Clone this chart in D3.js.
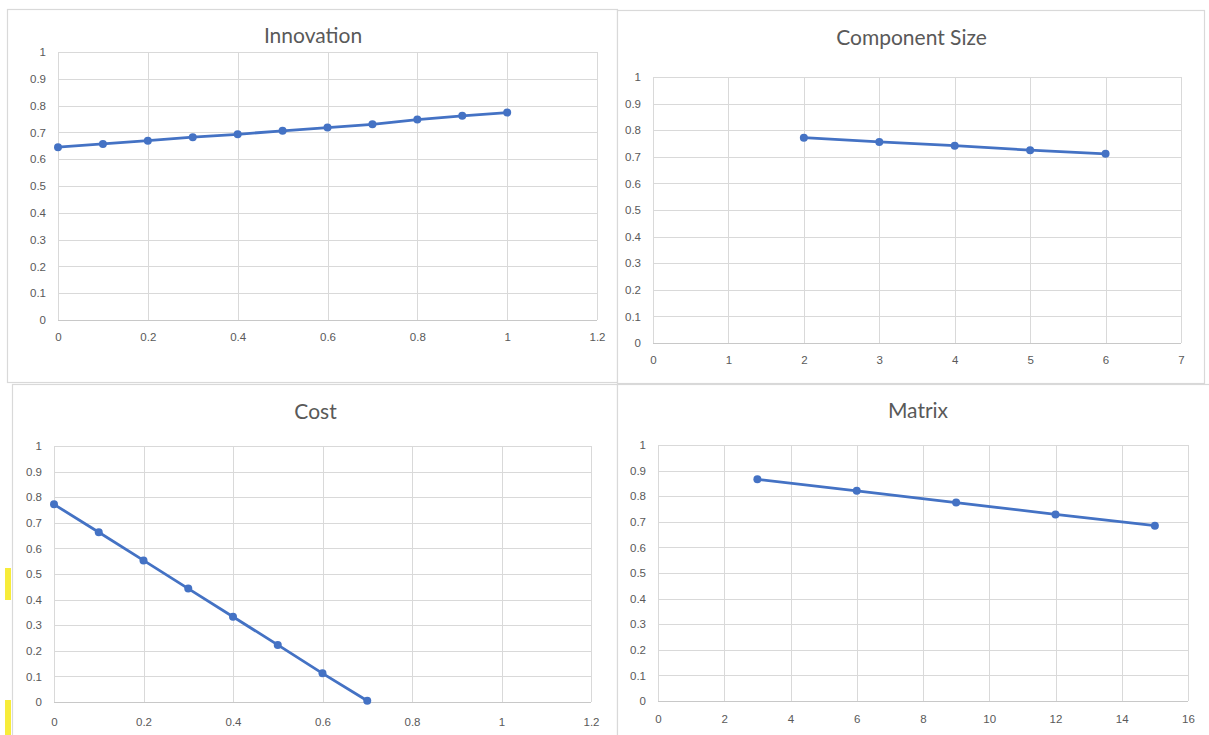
<!DOCTYPE html>
<html>
<head>
<meta charset="utf-8">
<script src="https://cdn.jsdelivr.net/npm/d3@7"></script>
<style>
  body { margin: 0; background: #fff; }
  svg { display: block; font-family: Lato, "Open Sans", sans-serif; }
  .tick text { fill: #595959; font-size: 11.5px; }
  .title { fill: #595959; font-size: 21px; }
</style>
</head>
<body>
<svg id="chart"></svg>
<script>
var w = 1209;
var h = 735;

// data
var innovationX = [0, 0.1, 0.2, 0.3, 0.4, 0.5, 0.6, 0.7, 0.8, 0.9, 1];
var innovationY = [0.645, 0.657, 0.669, 0.682, 0.693, 0.706, 0.718, 0.730, 0.748, 0.762, 0.774];

var componentX = [2, 3, 4, 5, 6];
var componentY = [0.772, 0.756, 0.742, 0.725, 0.711];

var costX = [0, 0.1, 0.2, 0.3, 0.4, 0.5, 0.6, 0.7];
var costY = [0.772, 0.663, 0.553, 0.443, 0.333, 0.223, 0.112, 0.005];

var matrixX = [3, 6, 9, 12, 15];
var matrixY = [0.866, 0.821, 0.775, 0.729, 0.685];

// tick labels
var yTicks = [0, 0.1, 0.2, 0.3, 0.4, 0.5, 0.6, 0.7, 0.8, 0.9, 1];
var fracTicks = [0, 0.2, 0.4, 0.6, 0.8, 1, 1.2];
var sizeTicks = [0, 1, 2, 3, 4, 5, 6, 7];
var matrixTicks = [0, 2, 4, 6, 8, 10, 12, 14, 16];

var panels = [
  { title: "Innovation", xs: innovationX, ys: innovationY, xTicks: fracTicks,
    box: [7, 9, 610, 373], plot: { left: 58, right: 597, top: 52, bottom: 320 }, titleY: 36, xLab: 20 },
  { title: "Component Size", xs: componentX, ys: componentY, xTicks: sizeTicks,
    box: [617, 10, 587, 373], plot: { left: 653, right: 1181, top: 77, bottom: 343 }, titleY: 38, xLab: 20 },
  { title: "Cost", xs: costX, ys: costY, xTicks: fracTicks,
    box: [12, 384, 605, 360], plot: { left: 54, right: 591, top: 446, bottom: 702 }, titleY: 412, xLab: 23 },
  { title: "Matrix", xs: matrixX, ys: matrixY, xTicks: matrixTicks,
    box: [617, 384, 600, 360], plot: { left: 658, right: 1188, top: 445, bottom: 701 }, titleY: 411, xLab: 21 }
];

var svg = d3.select("#chart")
  .attr("width", w)
  .attr("height", h);

// yellow highlight marks on the far left edge
svg.append("rect").attr("x", 5).attr("y", 568).attr("width", 6).attr("height", 32).attr("fill", "#f7ec3a");
svg.append("rect").attr("x", 5).attr("y", 700).attr("width", 6).attr("height", 35).attr("fill", "#f7ec3a");

panels.forEach(function(p) {
  var g = svg.append("g");

  // chart frame
  g.append("rect")
    .attr("x", p.box[0] + 0.5)
    .attr("y", p.box[1] + 0.5)
    .attr("width", p.box[2])
    .attr("height", p.box[3])
    .attr("fill", "#fff")
    .attr("stroke", "#d9d9d9")
    .attr("stroke-width", 1.2);

  var x = d3.scaleLinear()
    .domain([p.xTicks[0], p.xTicks[p.xTicks.length - 1]])
    .range([p.plot.left, p.plot.right]);

  var y = d3.scaleLinear()
    .domain([0, 1])
    .range([p.plot.bottom, p.plot.top]);

  // gridlines
  g.append("g")
    .selectAll("line.h")
    .data(yTicks)
    .enter()
    .append("line")
    .attr("x1", p.plot.left)
    .attr("x2", p.plot.right)
    .attr("y1", function(d) { return Math.round(y(d)) + 0.5; })
    .attr("y2", function(d) { return Math.round(y(d)) + 0.5; })
    .attr("stroke", function(d) { return d === 0 ? "#c8c8c8" : "#d9d9d9"; })
    .attr("stroke-width", 1);

  g.append("g")
    .selectAll("line.v")
    .data(p.xTicks)
    .enter()
    .append("line")
    .attr("x1", function(d) { return Math.round(x(d)) + 0.5; })
    .attr("x2", function(d) { return Math.round(x(d)) + 0.5; })
    .attr("y1", p.plot.top)
    .attr("y2", p.plot.bottom)
    .attr("stroke", "#d9d9d9")
    .attr("stroke-width", 1);

  // axes (labels only)
  var yAxis = g.append("g")
    .attr("transform", "translate(" + p.plot.left + ",0)")
    .call(d3.axisLeft(y).tickValues(yTicks).tickSize(0).tickPadding(12).tickFormat(d3.format("~g")));
  yAxis.select(".domain").remove();
  yAxis.selectAll("text").attr("font-family", null).attr("font-size", null);

  var xAxis = g.append("g")
    .attr("transform", "translate(0," + p.plot.bottom + ")")
    .call(d3.axisBottom(x).tickValues(p.xTicks).tickSize(0).tickPadding(p.xLab - 7).tickFormat(d3.format("~g")));
  xAxis.select(".domain").remove();
  xAxis.selectAll("text").attr("font-family", null).attr("font-size", null);

  // title
  g.append("text")
    .attr("class", "title")
    .attr("x", (p.box[0] + p.box[0] + p.box[2]) / 2 + 1)
    .attr("y", p.titleY)
    .attr("dy", "0.35em")
    .attr("text-anchor", "middle")
    .text(p.title);

  var pts = p.xs.map(function(d, i) { return [d, p.ys[i]]; });

  var line = d3.line()
    .x(function(d) { return x(d[0]); })
    .y(function(d) { return y(d[1]); });

  g.append("path")
    .datum(pts)
    .attr("d", line)
    .attr("fill", "none")
    .attr("stroke", "#4472c4")
    .attr("stroke-width", 2.8)
    .attr("stroke-linejoin", "round");

  g.selectAll("circle")
    .data(pts)
    .enter()
    .append("circle")
    .attr("cx", function(d) { return x(d[0]); })
    .attr("cy", function(d) { return y(d[1]); })
    .attr("r", 4)
    .attr("fill", "#4472c4");
});
</script>
</body>
</html>
